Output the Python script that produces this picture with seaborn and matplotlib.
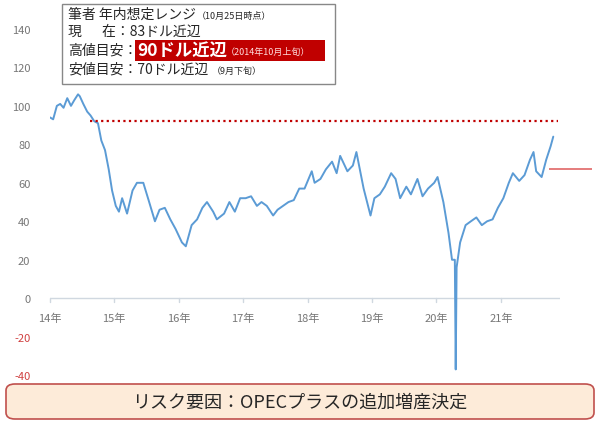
import matplotlib
matplotlib.use("Agg")
import matplotlib.pyplot as plt
from matplotlib.patches import FancyBboxPatch, Rectangle
import seaborn as sns
import pandas as pd
import numpy as np

sns.set_style("white")
plt.rcParams['font.family'] = ['Noto Sans CJK JP', 'DejaVu Sans']

# WTI price (USD), approximate readings
dates = pd.to_datetime([
    "2014-01-02", "2014-01-20", "2014-02-10", "2014-03-01", "2014-03-20", "2014-04-10", "2014-05-01",
    "2014-05-20", "2014-06-10", "2014-06-20", "2014-07-10", "2014-08-01", "2014-08-20", "2014-09-10",
    "2014-10-01", "2014-10-20", "2014-11-10", "2014-12-01", "2014-12-20",
    "2015-01-10", "2015-01-28", "2015-02-15", "2015-03-15", "2015-04-15", "2015-05-10", "2015-06-15",
    "2015-07-15", "2015-08-20", "2015-09-15", "2015-10-15", "2015-11-15", "2015-12-15",
    "2016-01-20", "2016-02-11", "2016-03-15", "2016-04-15", "2016-05-15", "2016-06-10", "2016-07-15",
    "2016-08-05", "2016-09-15", "2016-10-15", "2016-11-15", "2016-12-15",
    "2017-01-15", "2017-02-15", "2017-03-20", "2017-04-15", "2017-05-15", "2017-06-20", "2017-07-15",
    "2017-08-15", "2017-09-15", "2017-10-15", "2017-11-15", "2017-12-15",
    "2018-01-25", "2018-02-10", "2018-03-15", "2018-04-15", "2018-05-20", "2018-06-15", "2018-07-05",
    "2018-08-15", "2018-09-15", "2018-10-05", "2018-11-15", "2018-12-24",
    "2019-01-15", "2019-02-15", "2019-03-15", "2019-04-20", "2019-05-15", "2019-06-10", "2019-07-15",
    "2019-08-10", "2019-09-16", "2019-10-15", "2019-11-15", "2019-12-20",
    "2020-01-08", "2020-02-10", "2020-03-10", "2020-03-30", "2020-04-15", "2020-04-20", "2020-04-25",
    "2020-05-15", "2020-06-15", "2020-07-15", "2020-08-15", "2020-09-15", "2020-10-15", "2020-11-15",
    "2020-12-15",
    "2021-01-15", "2021-02-15", "2021-03-10", "2021-04-15", "2021-05-15", "2021-06-15", "2021-07-05",
    "2021-07-20", "2021-08-20", "2021-09-15", "2021-10-10", "2021-10-25",
])
prices = [
    94, 93, 100, 101, 99, 104, 100,
    103, 106, 105, 101, 97, 95, 92,
    91, 82, 77, 67, 56,
    48, 45, 52, 44, 56, 60, 60,
    51, 40, 46, 47, 41, 36,
    29, 27, 38, 41, 47, 50, 45,
    41, 44, 50, 45, 52,
    52, 53, 48, 50, 48, 43, 46,
    48, 50, 51, 57, 57,
    66, 60, 62, 67, 71, 65, 74,
    66, 69, 76, 57, 43,
    52, 54, 58, 65, 62, 52, 58,
    54, 62, 53, 57, 60,
    63, 50, 34, 20, 20, -37, 16,
    29, 38, 40, 42, 38, 40, 41,
    47,
    52, 60, 65, 61, 64, 72, 76,
    66, 63, 72, 79, 84,
]
yticks = [-40, -20, 0, 20, 40, 60, 80, 100, 120, 140]
year_labels = ["14年", "15年", "16年", "17年", "18年", "19年", "20年", "21年"]
target_high = 92
range_low = 67

df = pd.DataFrame({"date": dates, "price": prices})

fig = plt.figure(figsize=(6, 4.27), dpi=100)
ax = fig.add_axes([0.083, 0.119, 0.85, 0.856])
sns.lineplot(data=df, x="date", y="price", ax=ax, color="#5b9bd5", linewidth=1.4)

ax.hlines(target_high, pd.Timestamp("2014-08-15"), pd.Timestamp("2021-11-20"),
          colors="#c00000", linestyles=(0, (1, 1.5)), linewidth=1.6)
ax.hlines(range_low, pd.Timestamp("2021-10-01"), pd.Timestamp("2022-06-01"),
          colors="#e06666", linewidth=1.2, clip_on=False)
ax.axhline(0, color="#d0d8e0", linewidth=1, zorder=0)

ax.set_xlim(pd.Timestamp("2014-01-01"), pd.Timestamp("2021-12-01"))
ax.set_ylim(-40, 150)
for s in ax.spines.values():
    s.set_visible(False)
ax.set_yticks(yticks)
ax.set_yticklabels([str(v) for v in yticks], fontsize=8)
for lbl, v in zip(ax.get_yticklabels(), yticks):
    lbl.set_color("#d04040" if v < 0 else "#777777")
ax.tick_params(axis="y", length=0, pad=14)
ax.set_xticks([])
ax.set_xlabel("")
ax.set_ylabel("")
for i, lab in enumerate(year_labels):
    d = pd.Timestamp(f"{2014 + i}-01-01")
    ax.plot([d, d], [0, -2], color="#d0d8e0", linewidth=1, clip_on=False)
    ax.text(d, -10, lab, ha="center", va="center", fontsize=8, color="#777777")

# range text box
fig.patches.append(Rectangle((62 / 600, 1 - 85 / 427), 273 / 600, 80 / 427, transform=fig.transFigure,
                             facecolor="white", edgecolor="#888888", linewidth=1, zorder=5))
fig.patches.append(Rectangle((135 / 600, 1 - 62 / 427), 190 / 600, 21 / 427, transform=fig.transFigure,
                             facecolor="#c00000", edgecolor="none", zorder=6))
fs = 10
fig.text(68 / 600, 1 - 15 / 427, "筆者 年内想定レンジ", fontsize=fs, va="center", zorder=7)
fig.text(197 / 600, 1 - 16 / 427, "（10月25日時点）", fontsize=6.5, va="center", zorder=7)
fig.text(68 / 600, 1 - 32 / 427, "現　  在：83ドル近辺", fontsize=fs, va="center", zorder=7)
fig.text(68 / 600, 1 - 51 / 427, "高値目安：", fontsize=fs, va="center", zorder=7)
fig.text(137 / 600, 1 - 51 / 427, "90ドル近辺", fontsize=12.5, fontweight="bold", color="white", va="center", zorder=7)
fig.text(226 / 600, 1 - 52 / 427, "（2014年10月上旬）", fontsize=6.5, color="#ffdddd", va="center", zorder=7)
fig.text(68 / 600, 1 - 70 / 427, "安値目安：70ドル近辺", fontsize=fs, va="center", zorder=7)
fig.text(212 / 600, 1 - 71 / 427, "（9月下旬）", fontsize=6.5, va="center", zorder=7)

# risk box
fig.patches.append(FancyBboxPatch((6 / 600, 1 - 420 / 427), 588 / 600, 35 / 427,
                                  boxstyle="round,pad=0,rounding_size=0.015", transform=fig.transFigure,
                                  facecolor="#fdebd9", edgecolor="#c0504d", linewidth=1.2))
fig.text(0.5, 1 - 403 / 427, "リスク要因：OPECプラスの追加増産決定", fontsize=13, ha="center", va="center")

fig.savefig("out.png", dpi=100)
